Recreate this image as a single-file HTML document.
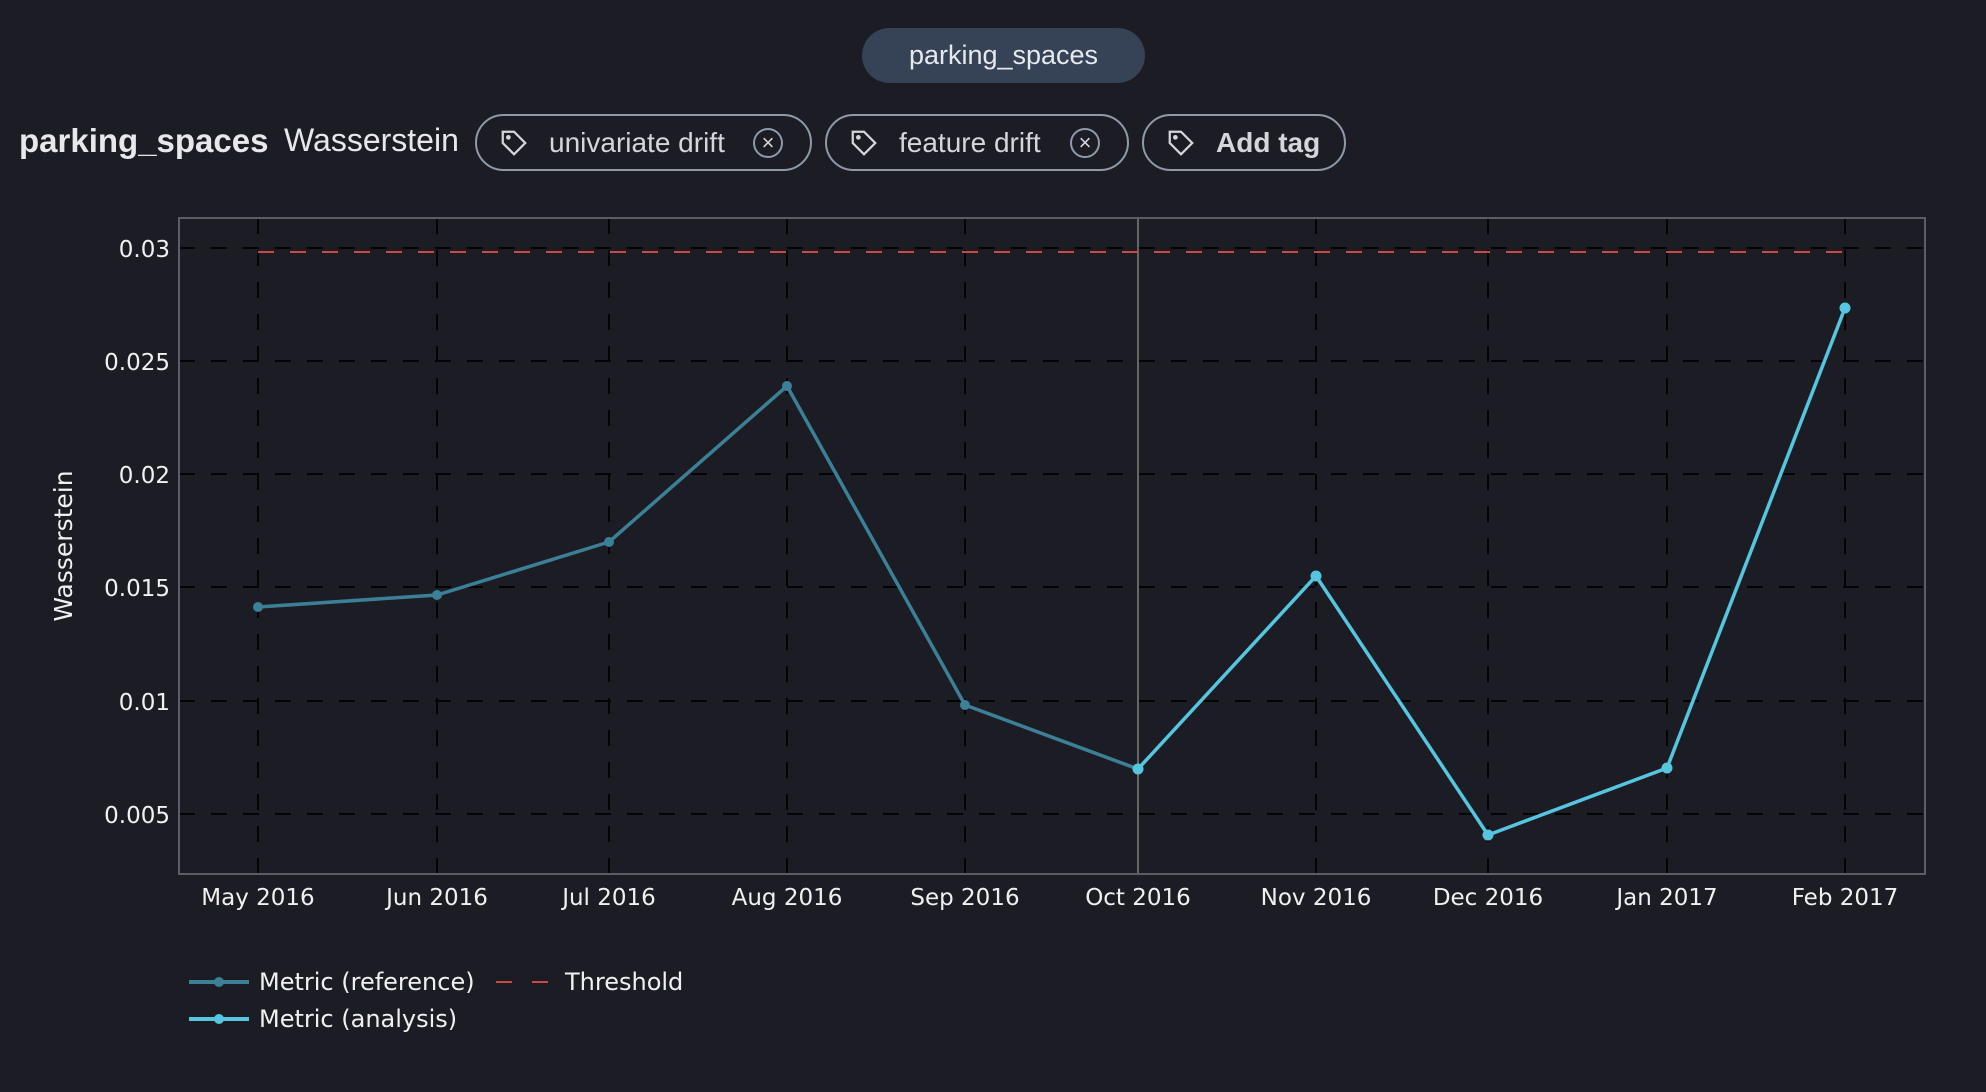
<!DOCTYPE html>
<html><head><meta charset="utf-8"><style>
body{margin:0;width:1986px;height:1092px;background:#1c1d24;overflow:hidden;font-family:"Liberation Sans",sans-serif;color:#e8e8ec;position:relative}
.pill{position:absolute;left:862px;top:28px;width:283px;height:55px;border-radius:28px;background:#364255;color:#e6e9ef;font-size:27px;line-height:55px;text-align:center}
.t{position:absolute;top:114px;height:57px;border:2px solid #8f99aa;border-radius:30px;box-sizing:border-box;font-size:28px;line-height:53px;color:#d4d6dc}
.h{position:absolute;top:122px;font-size:32px}
svg.tag{position:absolute;top:12px;left:22px}
.x{position:absolute;top:12px;width:30px;height:30px;border:2px solid #8f99aa;border-radius:50%;box-sizing:border-box;text-align:center;line-height:26px;font-size:22px}
</style></head><body>
<div class="pill">parking_spaces</div>
<div class="h" style="left:19px;font-weight:bold;font-size:33px">parking_spaces</div>
<div class="h" style="left:284px">Wasserstein</div>
<div class="t" style="left:475px;width:337px"><svg class="tag" width="30" height="30" viewBox="0 0 24 24" fill="none" stroke="#d4d6dc" stroke-width="1.8"><path d="M3 3h9l9 9-9 9-9-9z"/><circle cx="7.5" cy="7.5" r="1" fill="#d4d6dc"/></svg><span style="position:absolute;left:72px">univariate drift</span><div class="x" style="left:276px">×</div></div>
<div class="t" style="left:825px;width:304px"><svg class="tag" width="30" height="30" viewBox="0 0 24 24" fill="none" stroke="#d4d6dc" stroke-width="1.8"><path d="M3 3h9l9 9-9 9-9-9z"/><circle cx="7.5" cy="7.5" r="1" fill="#d4d6dc"/></svg><span style="position:absolute;left:72px">feature drift</span><div class="x" style="left:243px">×</div></div>
<div class="t" style="left:1142px;width:204px"><svg class="tag" width="30" height="30" viewBox="0 0 24 24" fill="none" stroke="#d4d6dc" stroke-width="1.8"><path d="M3 3h9l9 9-9 9-9-9z"/><circle cx="7.5" cy="7.5" r="1" fill="#d4d6dc"/></svg><span style="position:absolute;left:72px;font-weight:bold">Add tag</span></div>
<svg width="1986" height="1092" style="position:absolute;left:0;top:0" font-family="DejaVu Sans, sans-serif" font-size="23" fill="#f0f0f0">
<g stroke="#000" stroke-width="2" stroke-dasharray="16,16" opacity="0.85">
<line x1="179" x2="1925" y1="248" y2="248"/><line x1="179" x2="1925" y1="361" y2="361"/><line x1="179" x2="1925" y1="474" y2="474"/><line x1="179" x2="1925" y1="587" y2="587"/><line x1="179" x2="1925" y1="701" y2="701"/><line x1="179" x2="1925" y1="814" y2="814"/>
<line x1="258" x2="258" y1="218" y2="874"/><line x1="437" x2="437" y1="218" y2="874"/><line x1="609" x2="609" y1="218" y2="874"/><line x1="787" x2="787" y1="218" y2="874"/><line x1="965" x2="965" y1="218" y2="874"/><line x1="1316" x2="1316" y1="218" y2="874"/><line x1="1488" x2="1488" y1="218" y2="874"/><line x1="1667" x2="1667" y1="218" y2="874"/><line x1="1845" x2="1845" y1="218" y2="874"/>
</g>
<line x1="1138" x2="1138" y1="218" y2="874" stroke="#666" stroke-width="2"/>
<line x1="258" x2="1845" y1="252" y2="252" stroke="#c94a44" stroke-width="2" stroke-dasharray="16,16"/>
<rect x="179" y="218" width="1746" height="656" fill="none" stroke="#5a5e6a" stroke-width="2"/>
<polyline fill="none" stroke="#3b8097" stroke-width="3.5" points="258,607 437,595 609,542 787,386 965,705 1138,769"/>
<g fill="#3b8097"><circle cx="258" cy="607" r="5"/><circle cx="437" cy="595" r="5"/><circle cx="609" cy="542" r="5"/><circle cx="787" cy="386" r="5"/><circle cx="965" cy="705" r="5"/></g>
<polyline fill="none" stroke="#55c5e0" stroke-width="3.5" points="1138,769 1316,576 1488,835 1667,768 1845,308"/>
<g fill="#55c5e0"><circle cx="1138" cy="769" r="5.5"/><circle cx="1316" cy="576" r="5.5"/><circle cx="1488" cy="835" r="5.5"/><circle cx="1667" cy="768" r="5.5"/><circle cx="1845" cy="308" r="5.5"/></g>
<g text-anchor="end"><text x="170" y="257">0.03</text><text x="170" y="370">0.025</text><text x="170" y="483">0.02</text><text x="170" y="596">0.015</text><text x="170" y="710">0.01</text><text x="170" y="823">0.005</text></g>
<g text-anchor="middle"><text x="258" y="905">May 2016</text><text x="437" y="905">Jun 2016</text><text x="609" y="905">Jul 2016</text><text x="787" y="905">Aug 2016</text><text x="965" y="905">Sep 2016</text><text x="1138" y="905">Oct 2016</text><text x="1316" y="905">Nov 2016</text><text x="1488" y="905">Dec 2016</text><text x="1667" y="905">Jan 2017</text><text x="1845" y="905">Feb 2017</text></g>
<text transform="translate(72,546) rotate(-90)" text-anchor="middle" font-size="25">Wasserstein</text>
<line x1="189" x2="249" y1="982" y2="982" stroke="#3b8097" stroke-width="4"/><circle cx="219" cy="982" r="5" fill="#3b8097"/>
<text x="259" y="990" font-size="24">Metric (reference)</text>
<line x1="496" x2="550" y1="982" y2="982" stroke="#c94a44" stroke-width="2" stroke-dasharray="16,20"/>
<text x="565" y="990" font-size="24">Threshold</text>
<line x1="189" x2="249" y1="1019" y2="1019" stroke="#55c5e0" stroke-width="4"/><circle cx="219" cy="1019" r="5" fill="#55c5e0"/>
<text x="259" y="1027" font-size="24">Metric (analysis)</text>
</svg>
</body></html>
